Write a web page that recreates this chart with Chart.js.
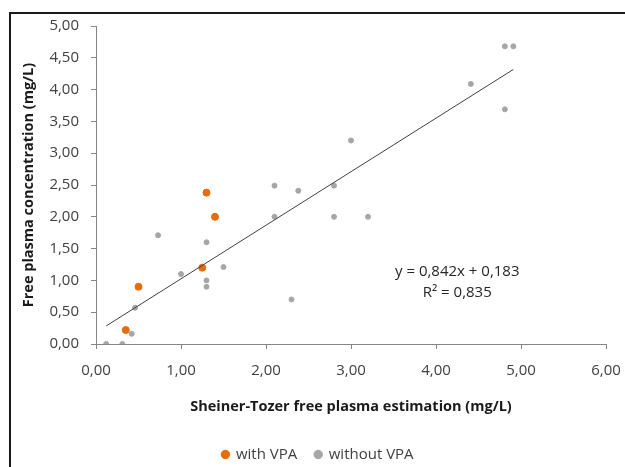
<!DOCTYPE html>
<html lang="en">
<head>
<meta charset="UTF-8">
<title>Free plasma concentration vs Sheiner-Tozer estimation</title>
<style>
    body { margin: 0; background: #fff; }
    #box { position: absolute; left: 0; top: 0; width: 625px; height: 467px; }
</style>
</head>
<body>
<div id="box"><canvas id="scatterChart" width="625" height="467"></canvas></div>
<script src="https://cdn.jsdelivr.net/npm/chart.js"></script>
<script>
// data
const withVpaX = [1.30, 1.40, 1.25, 0.50, 0.35];
const withVpaY = [2.38, 2.00, 1.20, 0.90, 0.22];

const withoutVpaX = [2.10, 2.38, 2.80, 2.10, 2.80, 0.73, 1.30, 1.00, 1.50, 1.30, 1.30, 2.30, 0.46, 0.42, 0.12, 0.31, 3.20, 3.00, 4.41, 4.81, 4.91, 4.81];
const withoutVpaY = [2.49, 2.41, 2.49, 2.00, 2.00, 1.71, 1.60, 1.10, 1.21, 1.00, 0.90, 0.70, 0.57, 0.16, 0.00, 0.00, 2.00, 3.20, 4.09, 4.68, 4.68, 3.69];

// linear trend (from the equation shown on the chart)
const slope = 0.842;
const intercept = 0.183;
const trendX = [0.12, 4.91];
const equationLines = ["y = 0,842x + 0,183", "R\u00b2 = 0,835"];

const xTicks = [0, 1, 2, 3, 4, 5, 6];
const yTicks = [0, 0.5, 1, 1.5, 2, 2.5, 3, 3.5, 4, 4.5, 5];

const toPoints = (xs, ys) => xs.map((x, i) => ({ x: x, y: ys[i] }));
const comma = v => Number(v).toFixed(2).replace(".", ",");

Chart.defaults.font.family = "'Open Sans', Lato, sans-serif";
Chart.defaults.color = "#404040";

const padBottom = -5;

// frame lines + equation text
const extras = {
    id: "extras",
    beforeDraw(chart) {
        const c = chart.ctx;
        c.save();
        c.strokeStyle = "#1a1a1a";
        c.lineWidth = 2;
        c.beginPath();
        c.moveTo(10, 467);
        c.lineTo(10, 13);
        c.lineTo(625, 13);
        c.stroke();
        c.restore();
    },
    afterDatasetsDraw(chart) {
        const c = chart.ctx;
        const xs = chart.scales.x, ys = chart.scales.y;
        c.save();
        c.font = "15px 'Open Sans', Lato, sans-serif";
        c.fillStyle = "#262626";
        c.textAlign = "center";
        c.textBaseline = "middle";
        c.fillText(equationLines[0], xs.getPixelForValue(4.25), ys.getPixelForValue(1.14));
        c.fillText(equationLines[1], xs.getPixelForValue(4.25), ys.getPixelForValue(0.80));
        c.restore();
    }
};

const ctx = document.getElementById("scatterChart").getContext("2d");
new Chart(ctx, {
    type: "scatter",
    data: {
        datasets: [
            {
                label: "with VPA",
                data: toPoints(withVpaX, withVpaY),
                backgroundColor: "#E46C0A",
                borderColor: "#E46C0A",
                pointRadius: 3.5,
                order: 1
            },
            {
                label: "without VPA",
                data: toPoints(withoutVpaX, withoutVpaY),
                backgroundColor: "#A6A6A6",
                borderColor: "#A6A6A6",
                pointRadius: 2.5,
                order: 2
            },
            {
                label: "trend",
                type: "line",
                data: trendX.map(x => ({ x: x, y: slope * x + intercept })),
                borderColor: "#404040",
                borderWidth: 1,
                pointRadius: 0,
                fill: false,
                order: 0
            }
        ]
    },
    options: {
        responsive: false,
        animation: false,
        layout: { padding: { left: 30, right: 19, top: 26, bottom: padBottom } },
        plugins: {
            tooltip: { enabled: false },
            legend: {
                position: "bottom",
                labels: {
                    usePointStyle: true,
                    pointStyle: "circle",
                    boxWidth: 6,
                    boxHeight: 6,
                    padding: 18,
                    color: "#404040",
                    font: { size: 15 },
                    filter: item => item.text !== "trend"
                }
            }
        },
        scales: {
            x: {
                type: "linear",
                min: 0,
                max: 6,
                afterBuildTicks: s => { s.ticks = xTicks.map(v => ({ value: v })); },
                ticks: { callback: comma, font: { size: 15 }, color: "#404040", padding: 13 },
                grid: { drawOnChartArea: false, tickLength: 5, color: "#868686" },
                border: { color: "#868686" },
                title: {
                    display: true,
                    text: "Sheiner-Tozer free plasma estimation (mg/L)",
                    font: { size: 14.5, weight: "bold" },
                    color: "#1a1a1a",
                    padding: { top: 10, bottom: 13 }
                },
                afterFit: s => {
                    const lh = s.chart.legend ? s.chart.legend.height : 0;
                    s.height = 467 - 344 - lh - padBottom;
                    s.paddingLeft = 0;
                    s.paddingRight = 0;
                }
            },
            y: {
                type: "linear",
                min: 0,
                max: 5,
                afterBuildTicks: s => { s.ticks = yTicks.map(v => ({ value: v })); },
                ticks: { callback: comma, font: { size: 15 }, color: "#404040", padding: 12 },
                grid: { drawOnChartArea: false, tickLength: 5, color: "#868686" },
                border: { color: "#868686" },
                title: {
                    display: true,
                    text: "Free plasma concentration (mg/L)",
                    font: { size: 14.5, weight: "bold" },
                    color: "#1a1a1a",
                    padding: { top: -10, bottom: 6 }
                },
                afterFit: s => {
                    s.width = 96 - 30;
                    s.paddingTop = 0;
                    s.paddingBottom = 0;
                }
            }
        }
    },
    plugins: [extras]
});
</script>
</body>
</html>
